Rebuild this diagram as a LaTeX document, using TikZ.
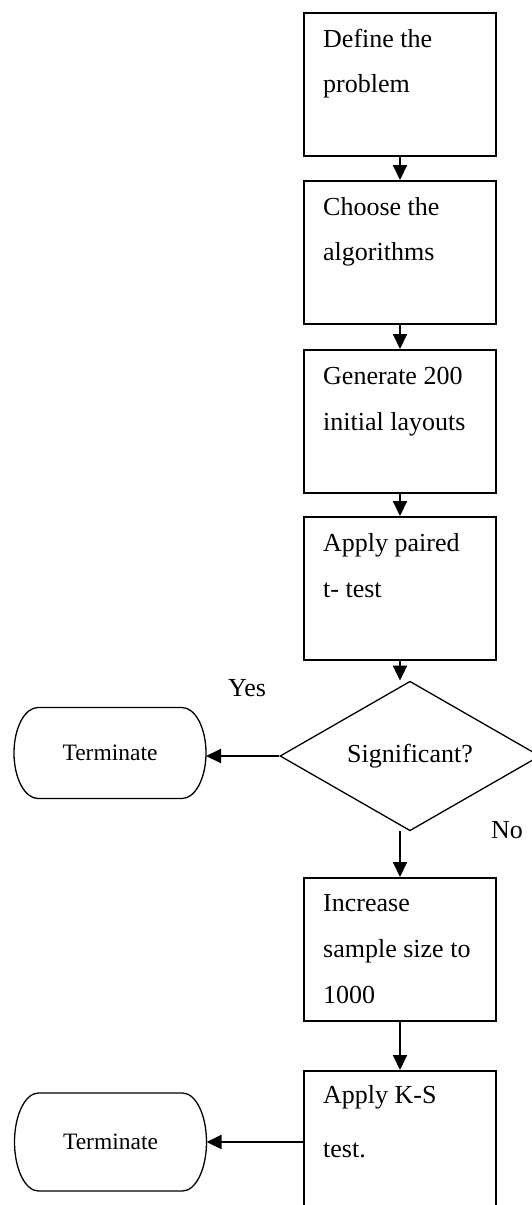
\documentclass[tikz,border=0pt]{standalone}
\usepackage{fontspec}
\setmainfont{Liberation Serif}
\usetikzlibrary{arrows.meta,calc,shapes.geometric}
\begin{document}
\begin{tikzpicture}[x=1pt,y=-1pt,
  procbox/.style={draw, line width=2pt, rectangle, minimum width=192pt, minimum height=143pt, inner sep=0pt, anchor=north west},
  txt/.style={anchor=base west, inner sep=0pt, font=\fontsize{26}{30}\selectfont},
  conn/.style={line width=2pt, -{Triangle[length=15pt,width=14pt]}},
  decision/.style={draw, diamond, line width=1.3pt, minimum width=260pt, minimum height=145pt, inner sep=0pt, font=\fontsize{26}{30}\selectfont},
  termnode/.style={rectangle, minimum width=192pt, inner sep=0pt, outer sep=0pt, font=\fontsize{23.5}{28}\selectfont},
  termline/.style={line width=1.3pt}]
\useasboundingbox (0,0) rectangle (532,1205);

% process boxes
\node[procbox] (b1) at (303,12) {};
\node[procbox] (b2) at (303,180) {};
\node[procbox] (b3) at (303,349) {};
\node[procbox] (b4) at (303,516) {};
\node[procbox] (b5) at (303,877) {};
\node[procbox, minimum height=150pt] (b6) at (303,1070) {};

% box texts
\node[txt] (t1a) at (323,47) {Define the};
\node[txt] (t1b) at (323,92) {problem};
\node[txt] (t2a) at (323,215) {Choose the};
\node[txt] (t2b) at (323,260) {algorithms};
\node[txt] (t3a) at (323,384) {Generate 200};
\node[txt] (t3b) at (323,430) {initial layouts};
\node[txt] (t4a) at (323,551) {Apply paired};
\node[txt] (t4b) at (323,597) {t- test};
\node[txt] (t5a) at (323,911) {Increase};
\node[txt] (t5b) at (323,957) {sample size to};
\node[txt] (t5c) at (323,1003) {1000};
\node[txt] (t6a) at (323,1103) {Apply K-S};
\node[txt] (t6b) at (323,1157) {test.};

% decision
\node[decision] (dm) at (410,756) {Significant?};

% terminators
\node[termnode, minimum height=91pt] (tm1) at (110,753) {Terminate};
\node[termnode, minimum height=98pt] (tm2) at (110.5,1142) {Terminate};
\draw[termline] ($(tm1.north west)+(24,0)$) -- ($(tm1.north east)+(-24,0)$)
  arc[start angle=90,end angle=-90,x radius=24pt,y radius=45.5pt]
  -- ($(tm1.south west)+(24,0)$)
  arc[start angle=270,end angle=90,x radius=24pt,y radius=45.5pt] -- cycle;
\draw[termline] ($(tm2.north west)+(24,0)$) -- ($(tm2.north east)+(-24,0)$)
  arc[start angle=90,end angle=-90,x radius=24pt,y radius=49pt]
  -- ($(tm2.south west)+(24,0)$)
  arc[start angle=270,end angle=90,x radius=24pt,y radius=49pt] -- cycle;

% labels
\node[txt] (yes) at (228,696) {Yes};
\node[txt] (no) at (491,838) {No};

% connectors
\draw[conn] (b1.south) -- (b2.north);
\draw[conn] (b2.south) -- (b3.north);
\draw[conn] (b3.south) -- (b4.north);
\draw[conn] (b4.south) -- (b4.south |- dm.north);
\draw[conn] (dm.south -| b5.north) -- (b5.north);
\draw[conn] (b5.south) -- (b6.north);
\draw[conn] (dm.west) -- (dm.west -| tm1.east);
\draw[conn] (b6.west |- tm2.east) -- (tm2.east);
\end{tikzpicture}
\end{document}
